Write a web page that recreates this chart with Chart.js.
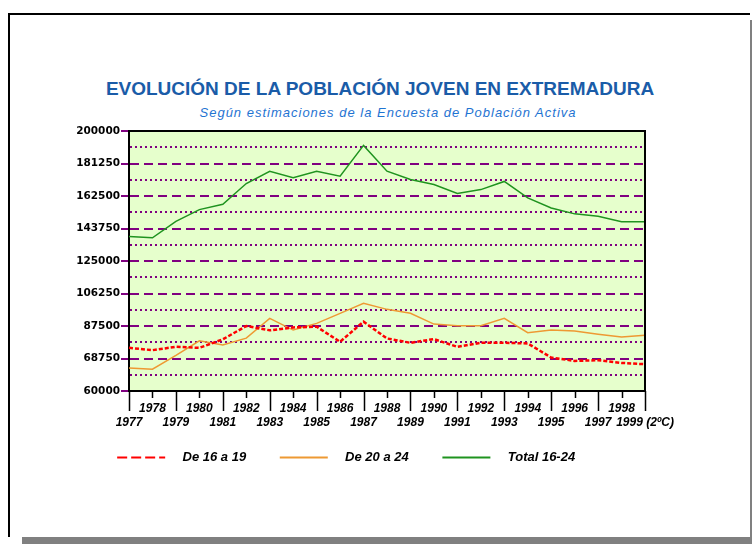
<!DOCTYPE html>
<html>
<head>
<meta charset="utf-8">
<script src="https://cdn.jsdelivr.net/npm/chart.js@4.4.1/dist/chart.umd.min.js"></script>
<style>
  html, body { margin: 0; padding: 0; background: #fff; }
  body { width: 752px; height: 544px; position: relative; overflow: hidden; }
  .frame {
    position: absolute; left: 8px; top: 13px; width: 740px; height: 522px;
    border-left: 2px solid #000; border-top: 2px solid #000;
    background: #fff; box-shadow: 14px 7px 0 #808080;
  }
  .title {
    position: absolute; left: 0; top: 79px; width: 760px; text-align: center;
    font: bold 19px Arial, "Liberation Sans", sans-serif; line-height: 19px;
    color: #1a5ca8; white-space: nowrap;
  }
  .subtitle {
    position: absolute; left: 0; top: 106px; width: 776px; text-align: center;
    font: italic 13px Arial, "Liberation Sans", sans-serif; line-height: 13px;
    letter-spacing: 1px; color: #1f74d2; white-space: nowrap;
  }
  canvas { position: absolute; left: 0; top: 0; }
</style>
</head>
<body>
<div class="frame"></div>
<div class="title">EVOLUCIÓN DE LA POBLACIÓN JOVEN EN EXTREMADURA</div>
<div class="subtitle">Según estimaciones de la Encuesta de Población Activa</div>
<canvas id="chart" width="752" height="544"></canvas>
<script>
const years = ['1977', '1978', '1979', '1980', '1981', '1982', '1983', '1984', '1985', '1986', '1987', '1988',
  '1989', '1990', '1991', '1992', '1993', '1994', '1995', '1996', '1997', '1998', '1999']
const yearLabels = ['1977', '1978', '1979', '1980', '1981', '1982', '1983', '1984', '1985', '1986', '1987', '1988',
  '1989', '1990', '1991', '1992', '1993', '1994', '1995', '1996', '1997', '1998', '1999 (2ºC)']

const de16a19 = [74900, 73550, 75500, 74900, 79800, 87500, 85000, 86700, 87050, 78400, 90000, 80300,
  77800, 79950, 75500, 77800, 77800, 77450, 69300, 67350, 67750, 66200, 65450]
const de20a24 = [63300, 62550, 70500, 78950, 76600, 80500, 91900, 85150, 89000, 94800, 100600, 97100,
  94800, 88600, 87600, 87600, 91900, 83600, 85150, 84600, 82800, 81100, 82100]
const total16a24 = [139200, 138400, 147900, 154650, 157700, 169700, 176800, 173000, 176800, 173900, 191700, 176800,
  172000, 169100, 163900, 166200, 170900, 161400, 155600, 152200, 150800, 147700, 147700]

// axis runs 50000..200000, dashed line every 18750 and dotted line halfway
const yMin = 50000
const yMax = 200000
const yStep = 9375
const yTickLabels = ['60000', '68750', '87500', '106250', '125000', '143750', '162500', '181250', '200000']

const purple = '#800080'
const labelFont = "Arial, 'Liberation Sans', sans-serif"

const plotFrame = {
  id: 'plotFrame',
  beforeDraw(chart) {
    const { ctx, chartArea: a } = chart
    ctx.save()
    ctx.fillStyle = '#e6ffcc'
    ctx.fillRect(a.left, a.top, a.right - a.left, a.bottom - a.top)
    ctx.restore()
  },
  afterDraw(chart) {
    const { ctx, chartArea: a } = chart
    const x = chart.scales.x
    ctx.save()
    ctx.strokeStyle = '#000'
    ctx.lineWidth = 2
    ctx.beginPath()
    ctx.moveTo(a.left - 1, a.top)
    ctx.lineTo(a.right, a.top)
    ctx.lineTo(a.right, a.bottom)
    ctx.stroke()
    // year ticks: short for the upper label row, long for the lower one
    ctx.lineWidth = 1.5
    ctx.beginPath()
    x.ticks.forEach((t, i) => {
      const px = Math.round(x.getPixelForTick(i)) + 0.5
      ctx.moveTo(px, a.bottom)
      ctx.lineTo(px, a.bottom + (i % 2 === 0 ? 20 : 7))
    })
    ctx.stroke()
    ctx.restore()
  }
}

new Chart(document.getElementById('chart'), {
  type: 'line',
  data: {
    labels: years,
    datasets: [
      { label: 'De 16 a 19', data: de16a19, borderColor: '#ff0000', borderWidth: 2.5, borderDash: [4, 2] },
      { label: 'De 20 a 24', data: de20a24, borderColor: '#ee9933', borderWidth: 1.5 },
      { label: 'Total 16-24', data: total16a24, borderColor: '#1f931f', borderWidth: 1.5 }
    ]
  },
  options: {
    responsive: false,
    animation: false,
    layout: { padding: { left: 69, right: 107, top: 131, bottom: 70 } },
    elements: { point: { radius: 0 }, line: { tension: 0 } },
    scales: {
      x: {
        offset: false,
        afterFit: (scale) => { scale.height = 48 },
        grid: { drawOnChartArea: false, drawTicks: false },
        border: { color: '#000', width: 2 },
        ticks: {
          autoSkip: false, maxRotation: 0, minRotation: 0, padding: 10, color: '#000',
          font: { family: labelFont, size: 12, style: 'italic', weight: 'bold' },
          callback: (value, index) => index % 2 === 0 ? ['', yearLabels[index]] : [yearLabels[index]]
        }
      },
      y: {
        min: yMin,
        max: yMax,
        afterFit: (scale) => { scale.width = 60 },
        grid: {
          lineWidth: 2,
          color: (c) => {
            if (!c.tick) return purple
            return c.tick.value === yMin || c.tick.value === yMax ? 'transparent' : purple
          },
          tickLength: 8,
          tickWidth: 2,
          tickColor: (c) => c.index % 2 === 0 ? purple : 'transparent'
        },
        border: {
          color: '#000', width: 2,
          dash: (c) => !c.tick ? [] : (c.index % 2 === 0 ? [9, 5] : [2, 3])
        },
        ticks: {
          stepSize: yStep, padding: 1, color: '#000',
          font: { family: "'DejaVu Sans'", size: 10.5, weight: 'bold' },
          callback: (value, index) => index % 2 === 0 ? yTickLabels[index / 2] : ''
        }
      }
    },
    plugins: {
      tooltip: { enabled: false },
      legend: {
        position: 'bottom',
        align: 'center',
        labels: {
          usePointStyle: true,
          pointStyle: 'line',
          pointStyleWidth: 48,
          padding: 12,
          color: '#000',
          font: { family: labelFont, size: 13, style: 'italic', weight: 'bold' },
          generateLabels(chart) {
            const items = Chart.defaults.plugins.legend.labels.generateLabels(chart)
            items.forEach((item, i) => {
              item.text = '   ' + item.text + '      '
              item.lineWidth = 2
              item.lineDash = i === 0 ? [10, 4] : []
            })
            return items
          }
        }
      }
    }
  },
  plugins: [plotFrame]
})
</script>
</body>
</html>
